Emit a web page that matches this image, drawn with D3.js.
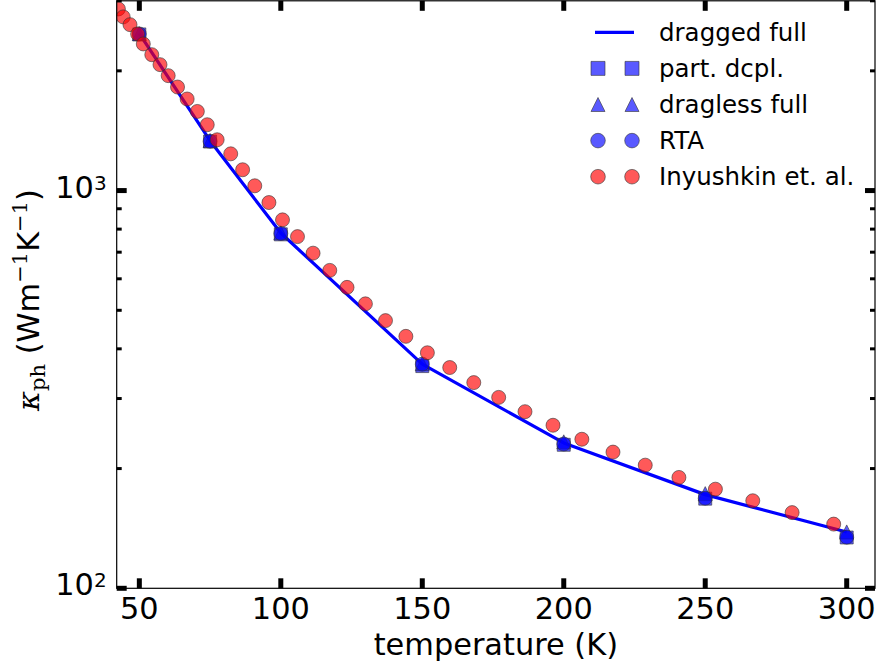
<!DOCTYPE html>
<html><head><meta charset="utf-8">
<script src="https://cdn.jsdelivr.net/npm/d3@7"></script>
<style>body{margin:0;background:#fff} svg{display:block}</style>
</head><body><svg id="c" width="878" height="663"></svg>
<script>
// ---- data ----
const temps = [50, 75, 100, 150, 200, 250, 300];
const draggedFull = [2480, 1335, 782, 366, 232, 172, 138.5];
const partDcpl = [2470, 1328, 776, 362, 229.5, 168, 134.2];
const draglessFull = [2480, 1336, 783, 367, 233.5, 173, 138.6];
const rta = [2476, 1330, 780, 366, 230.5, 168.4, 134.4];
const expT = [42.6,44.3,46.7,49.4,51.4,54.4,57.3,60.2,63.5,66.9,70.5,74.0,77.5,82.3,86.5,90.8,95.8,100.6,105.9,111.4,117.3,123.4,129.9,137.0,144.2,151.8,159.7,168.2,177.0,186.3,196.2,206.4,217.4,228.8,240.7,253.6,266.8,280.7,295.4];
const expK = [2862,2733,2613,2476,2337,2196,2073,1945,1821,1699,1581,1464,1342,1237,1128,1028,933,844,766,696,630,571,519,471,430,391,359,329,302,278,257,237,220,204,190,177.5,166,155,145];
const xTicks = [50, 100, 150, 200, 250, 300];
const yMajorTicks = [100, 1000];
const yMinorTicks = [200,300,400,500,600,700,800,900,2000,3000];
const legendLabels = ["dragged full", "part. dcpl.", "dragless full", "RTA", "Inyushkin et. al."];

// ---- layout ----
const L = 116.7, R = 875, T = 0.8, B = 588.3;
const svg = d3.select("#c");
const x = d3.scaleLinear().domain([42, 310]).range([L, R]);
const y = d3.scaleLog().domain([100, 3000]).range([B, T]);
const FONT = "DejaVu Sans, sans-serif";
const blue = "#0000ff", red = "#ff0000", edge = "#333";
const alpha = 0.65;

svg.append("defs").append("clipPath").attr("id","clip")
  .append("rect").attr("x",L).attr("y",T).attr("width",R-L).attr("height",B-T);

const plot = svg.append("g").attr("clip-path","url(#clip)");

// line
plot.append("path")
  .datum(temps.map((t,i)=>[t,draggedFull[i]]))
  .attr("d", d3.line().x(d=>x(d[0])).y(d=>y(d[1])))
  .attr("fill","none").attr("stroke",blue).attr("stroke-width",3.2).attr("stroke-linejoin","round");

function triPath(s){ const h = s/2; return `M0,${-h}L${-h},${h}L${h},${h}Z`; }
function sqPath(s){ const h=s/2; return `M${-h},${-h}H${h}V${h}H${-h}Z`; }
function circPath(r){ return d3.arc()({innerRadius:0,outerRadius:r,startAngle:0,endAngle:2*Math.PI}); }

function markers(g, xs, ys, kind, color){
  g.selectAll(null).data(xs.map((t,i)=>[t,ys[i]])).enter().append("path")
    .attr("transform", d=>`translate(${x(d[0])},${y(d[1])})`)
    .attr("d", kind==="s" ? sqPath(13) : kind==="^" ? triPath(14) : circPath(7))
    .attr("fill", color).attr("fill-opacity", alpha)
    .attr("stroke", edge).attr("stroke-opacity", 0.6).attr("stroke-width", 1);
}
markers(plot, temps, partDcpl, "s", blue);
markers(plot, temps, draglessFull, "^", blue);
markers(plot, temps, rta, "o", blue);
markers(plot, expT, expK, "o", red);

// spines
svg.append("rect").attr("x",L).attr("y",T).attr("width",R-L).attr("height",B-T)
  .attr("fill","none").attr("stroke","#000").attr("stroke-width",1.2);

// ticks
const tk = svg.append("g").attr("stroke","#000");
xTicks.forEach(v=>{
  tk.append("line").attr("x1",x(v)).attr("x2",x(v)).attr("y1",B).attr("y2",B-10).attr("stroke-width",5);
  tk.append("line").attr("x1",x(v)).attr("x2",x(v)).attr("y1",T).attr("y2",T+10).attr("stroke-width",5);
});
yMajorTicks.forEach(v=>{
  tk.append("line").attr("x1",L).attr("x2",L+10).attr("y1",y(v)).attr("y2",y(v)).attr("stroke-width",5);
  tk.append("line").attr("x1",R).attr("x2",R-10).attr("y1",y(v)).attr("y2",y(v)).attr("stroke-width",5);
});
yMinorTicks.forEach(v=>{
  tk.append("line").attr("x1",L).attr("x2",L+5).attr("y1",y(v)).attr("y2",y(v)).attr("stroke-width",3);
  tk.append("line").attr("x1",R).attr("x2",R-5).attr("y1",y(v)).attr("y2",y(v)).attr("stroke-width",3);
});

// tick labels
const TF = 30.4;
xTicks.forEach(v=>{
  svg.append("text").attr("x",x(v)).attr("y",618.5).attr("text-anchor","middle")
    .attr("font-family",FONT).attr("font-size",TF).text(v);
});
yMajorTicks.forEach(v=>{
  const t = svg.append("text").attr("x",L-10).attr("y",y(v)+7).attr("text-anchor","end")
    .attr("font-family",FONT).attr("font-size",TF);
  t.append("tspan").text("10");
  t.append("tspan").attr("font-size",20).attr("dy",-8).text(Math.round(Math.log10(v)));
});

// axis labels
svg.append("text").attr("x",(L+R)/2).attr("y",655).attr("text-anchor","middle")
  .attr("font-family",FONT).attr("font-size",TF).text("temperature (K)");

const yl = svg.append("text").attr("transform","translate(39,300) rotate(-90)").attr("text-anchor","middle")
  .attr("font-family",FONT).attr("font-size",TF);
yl.append("tspan").attr("font-family","DejaVu Serif, serif").attr("font-style","italic").text("κ");
yl.append("tspan").attr("font-family","DejaVu Serif, serif").attr("font-size",21).attr("dy",6).text("ph");
yl.append("tspan").attr("dy",-6).text(" (Wm");
yl.append("tspan").attr("font-family","DejaVu Serif, serif").attr("font-size",21).attr("dy",-12).text("−1");
yl.append("tspan").attr("dy",12).text("K");
yl.append("tspan").attr("font-family","DejaVu Serif, serif").attr("font-size",21).attr("dy",-12).text("−1");
yl.append("tspan").attr("dy",12).text(")");

// legend
const lg = svg.append("g");
const rows = [32.3, 68.4, 104.5, 140.6, 176.7];
const mx = [598, 632];
const kinds = ["line","s","^","o","o"];
const colors = [blue, blue, blue, blue, red];
rows.forEach((ry,i)=>{
  if(kinds[i]==="line"){
    lg.append("line").attr("x1",595).attr("x2",634).attr("y1",ry).attr("y2",ry)
      .attr("stroke",blue).attr("stroke-width",3.2);
  } else {
    mx.forEach(xx=>{
      lg.append("path").attr("transform",`translate(${xx},${ry})`)
        .attr("d", kinds[i]==="s" ? sqPath(14) : kinds[i]==="^" ? triPath(14) : circPath(7.3))
        .attr("fill",colors[i]).attr("fill-opacity",alpha)
        .attr("stroke",edge).attr("stroke-opacity",0.6).attr("stroke-width",1);
    });
  }
  lg.append("text").attr("x",659).attr("y",ry+8.7).attr("font-family",FONT).attr("font-size",24.5)
    .text(legendLabels[i]);
});
</script></body></html>
